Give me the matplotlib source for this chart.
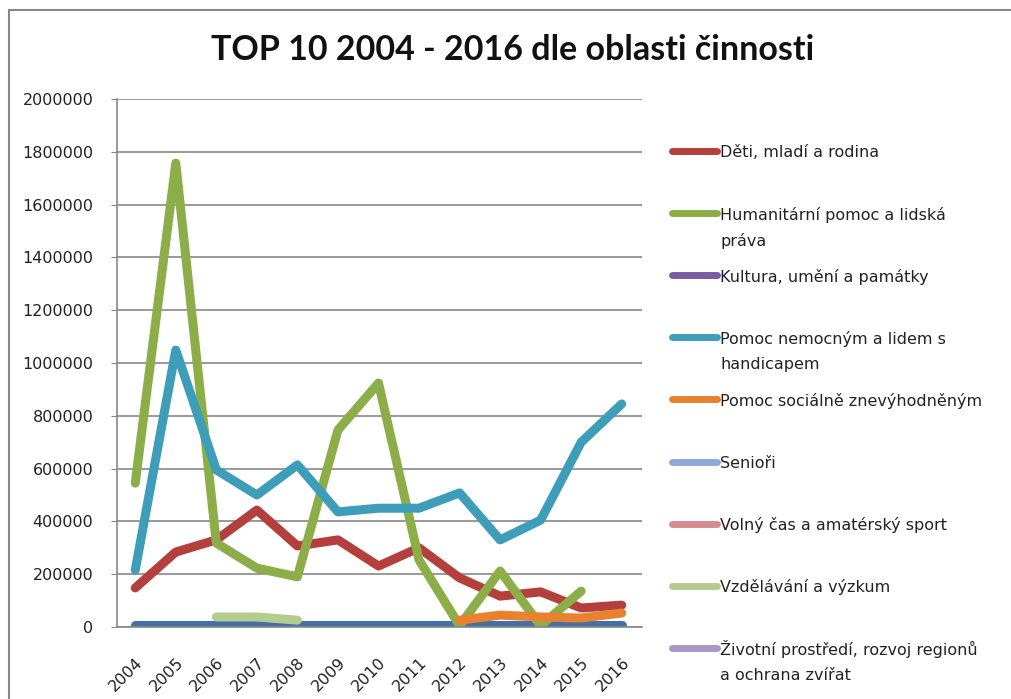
import numpy as np
import matplotlib.pyplot as plt
from matplotlib.lines import Line2D
from matplotlib.patches import Rectangle

nan = np.nan
roky = ['2004', '2005', '2006', '2007', '2008', '2009', '2010',
        '2011', '2012', '2013', '2014', '2015', '2016']

# serie bez polozky v legende (modra cara u nuly)
ostatni = [8000] * 13
deti = [148000, 284000, 330000, 443000, 307000, 330000, 231000,
        300000, 186000, 117000, 133000, 72000, 83000]
humanitarni = [545000, 1757000, 318000, 223000, 190000, 746000, 924000,
               254000, 5000, 212000, 5000, 136000, nan]
kultura = [nan] * 13
nemocni = [216000, 1049000, 595000, 500000, 614000, 436000, 450000,
           450000, 508000, 330000, 405000, 700000, 845000]
socialne = [nan, nan, nan, nan, nan, nan, nan, nan,
            26000, 45000, 38000, 34000, 53000]
seniori = [nan] * 13
volny_cas = [nan] * 13
vzdelavani = [nan, nan, 38000, 38000, 26000, nan, nan,
              nan, nan, nan, nan, nan, nan]
zivotni = [nan] * 13

nazvy = ['Děti, mladí a rodina', 'Humanitární pomoc a lidská\npráva',
         'Kultura, umění a památky', 'Pomoc nemocným a lidem s\nhandicapem',
         'Pomoc sociálně znevýhodněným', 'Senioři',
         'Volný čas a amatérský sport', 'Vzdělávání a výzkum',
         'Životní prostředí, rozvoj regionů\na ochrana zvířat']
serie = [deti, humanitarni, kultura, nemocni, socialne,
         seniori, volny_cas, vzdelavani, zivotni]
barvy = ['#B3403D', '#8BAE48', '#7A5CA0', '#3E9DB8', '#E9822F',
         '#8EA9D5', '#D48C8C', '#B4CC8E', '#A898C8']

fig = plt.figure(figsize=(10.11, 6.99), dpi=100)
ax = fig.add_axes([117/1011, 1 - 627/699, 525/1011, 528/699])

x = np.arange(len(roky))
styl = dict(lw=6.5, solid_capstyle='round', solid_joinstyle='round')
ax.plot(x, ostatni, color='#4270A8', **styl)
for s, c in zip(serie, barvy):
    ax.plot(x, s, color=c, **styl)

ax.set_xlim(-0.45, 12.5)
ax.set_ylim(0, 2000000)
ax.set_yticks(np.arange(0, 2000001, 200000))
ax.set_yticklabels([str(v) for v in range(0, 2000001, 200000)])
ax.set_xticks(x)
ax.set_xticklabels(roky, rotation=45, ha='right', rotation_mode='anchor')
ax.grid(axis='y', color='#878787', lw=1.2)
ax.set_axisbelow(True)
for side in ['top', 'right']:
    ax.spines[side].set_visible(False)
for side in ['left', 'bottom']:
    ax.spines[side].set_color('#878787')
    ax.spines[side].set_linewidth(1.2)
ax.tick_params(axis='y', length=4, color='#878787', pad=13, labelsize=11.5,
               labelcolor='#222222')
ax.tick_params(axis='x', length=0, pad=20, labelsize=11.5,
               labelcolor='#222222')

fig.text(513/1011, 1 - 50/699, 'TOP 10 2004 - 2016 dle oblasti činnosti',
         ha='center', va='center', fontsize=24.5, fontweight='bold',
         family='Lato', color='#111111')

# legenda
for i, (nazev, c) in enumerate(zip(nazvy, barvy)):
    y = 151 + i * 62.1
    fig.add_artist(Line2D([672/1011, 717/1011], [1 - y/699, 1 - y/699],
                          color=c, lw=5, solid_capstyle='round'))
    for j, radek in enumerate(nazev.split('\n')):
        fig.text(720/1011, 1 - (y + j*26)/699, radek, ha='left',
                 va='center_baseline', fontsize=11.5, color='#222222')

# ramecek grafu
fig.add_artist(Rectangle((9/1011, -0.1), 1.2, 1.1 - 10/699, fill=False,
                         ec='#878787', lw=1.5, transform=fig.transFigure))

fig.savefig('out.png', dpi=100)
